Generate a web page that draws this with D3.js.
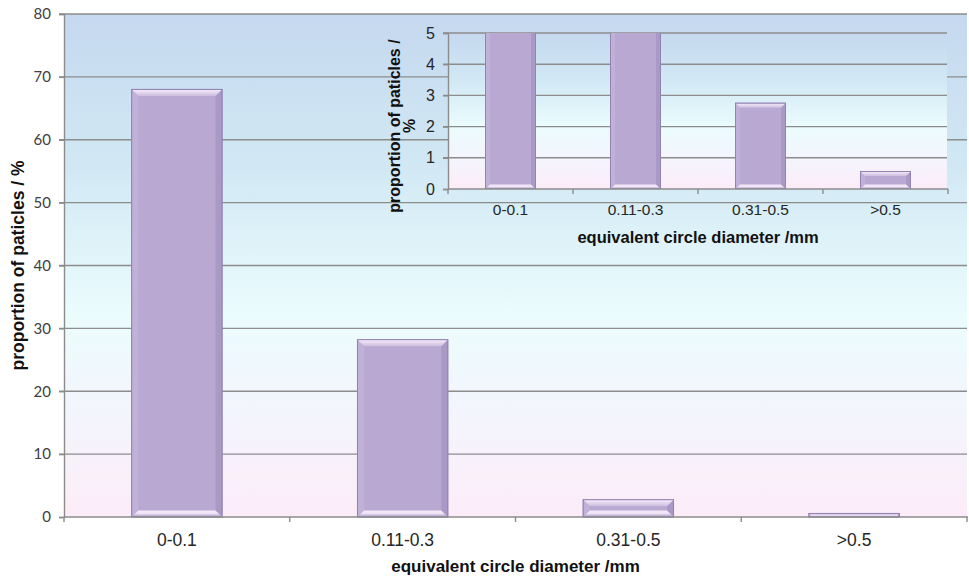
<!DOCTYPE html>
<html>
<head>
<meta charset="utf-8">
<script src="https://cdn.jsdelivr.net/npm/d3@7"></script>
<style>
  html, body { margin: 0; padding: 0; background: #ffffff; }
  svg { display: block; }
</style>
</head>
<body>
<svg id="chart" width="969" height="577"></svg>
<script>
// Particle size distribution (same values drawn in the full chart and the zoomed inset)
const categories = ["0-0.1", "0.11-0.3", "0.31-0.5", ">0.5"];
const proportions = [68.0, 28.2, 2.75, 0.56];
const mainTicks = [0, 10, 20, 30, 40, 50, 60, 70, 80];
const insetTicks = [0, 1, 2, 3, 4, 5];
const xTitle = "equivalent circle diameter /mm";
const yTitle = "proportion of paticles / %";
const insetYTitleLines = ["proportion of paticles /", "%"];

const svg = d3.select("#chart");
const defs = svg.append("defs");

// background gradient of the plot areas: blue at top, pale cyan mid, pink at bottom
const bg = defs.append("linearGradient").attr("id", "plotBg")
  .attr("x1", 0).attr("y1", 0).attr("x2", 0).attr("y2", 1);
[[0, "#c5d8ef"], [0.3, "#d1e8f4"], [0.6, "#ebfcfd"], [0.8, "#f4f5fc"], [1, "#fcecf8"]]
  .forEach(([o, c]) => bg.append("stop").attr("offset", o).attr("stop-color", c));

// bevel gradients
const topBev = defs.append("linearGradient").attr("id", "topBev")
  .attr("x1", 0).attr("y1", 0).attr("x2", 0).attr("y2", 1);
topBev.append("stop").attr("offset", 0).attr("stop-color", "#f6ecfa");
topBev.append("stop").attr("offset", 1).attr("stop-color", "#cdbde0");
const botBev = defs.append("linearGradient").attr("id", "botBev")
  .attr("x1", 0).attr("y1", 1).attr("x2", 0).attr("y2", 0);
botBev.append("stop").attr("offset", 0).attr("stop-color", "#a493c3");
botBev.append("stop").attr("offset", 0.55).attr("stop-color", "#efe4f6");
botBev.append("stop").attr("offset", 1).attr("stop-color", "#f4eafa");

const gridColor = "#8c8c8c";
const axisColor = "#8c8c8c";

// draws a bevelled bar
function bevelBar(g, x, y, w, h, b) {
  b = Math.min(b, h / 2);
  const grp = g.append("g");
  grp.append("rect").attr("x", x).attr("y", y).attr("width", w).attr("height", h)
    .attr("fill", "#b8a8d2").attr("stroke", "#9282b1").attr("stroke-width", 1);
  const poly = pts => pts.map(p => p.join(",")).join(" ");
  // left and right faces
  grp.append("polygon").attr("points", poly([[x, y], [x + b, y + b], [x + b, y + h - b], [x, y + h]]))
    .attr("fill", "#c0b1d9");
  grp.append("polygon").attr("points", poly([[x + w, y], [x + w - b, y + b], [x + w - b, y + h - b], [x + w, y + h]]))
    .attr("fill", "#a999c7");
  // top and bottom faces
  grp.append("polygon").attr("points", poly([[x, y], [x + w, y], [x + w - b, y + b], [x + b, y + b]]))
    .attr("fill", "url(#topBev)");
  grp.append("polygon").attr("points", poly([[x, y + h], [x + w, y + h], [x + w - b, y + h - b], [x + b, y + h - b]]))
    .attr("fill", "url(#botBev)");
  grp.append("rect").attr("x", x).attr("y", y).attr("width", w).attr("height", h)
    .attr("fill", "none").attr("stroke", "#9383b2").attr("stroke-width", 1);
  return grp;
}

// ---------- main chart ----------
const M = { left: 64, right: 967, top: 14, bottom: 517 };
const x = d3.scaleBand().domain(categories).range([M.left, M.right])
  .paddingInner(0.6).paddingOuter(0.3);
const y = d3.scaleLinear().domain([0, 80]).range([M.bottom, M.top]);

const main = svg.append("g");
main.append("rect").attr("x", M.left).attr("y", M.top)
  .attr("width", M.right - M.left).attr("height", M.bottom - M.top)
  .attr("fill", "url(#plotBg)");

// horizontal gridlines with short outside ticks
main.append("g").selectAll("line").data(mainTicks.filter(d => d > 0)).join("line")
  .attr("x1", M.left - 5).attr("x2", M.right)
  .attr("y1", d => y(d)).attr("y2", d => y(d))
  .attr("stroke", gridColor).attr("stroke-width", 1.4);

// y axis
const yAxis = main.append("g").attr("transform", `translate(${M.left},0)`)
  .call(d3.axisLeft(y).tickValues(mainTicks).tickFormat(d3.format("d")).tickSize(5).tickPadding(8));
yAxis.select(".domain").attr("stroke", axisColor).attr("stroke-width", 1.4);
yAxis.selectAll(".tick line").attr("stroke", axisColor).attr("stroke-width", 1.4);
yAxis.selectAll(".tick text").attr("font-family", "Lato, 'Open Sans', sans-serif")
  .attr("font-size", 15).attr("fill", "#404040");

// bars
const mainBars = main.append("g");
categories.forEach((c, i) => {
  bevelBar(mainBars, x(c), y(proportions[i]), x.bandwidth(), y(0) - y(proportions[i]), 6.5);
});

// x axis with boundary ticks
const step = x.step();
const boundaries = categories.map(c => x(c) - (step - x.bandwidth()) / 2)
  .concat([x(categories[categories.length - 1]) + x.bandwidth() + (step - x.bandwidth()) / 2]);
main.append("line").attr("x1", M.left).attr("x2", M.right + 1)
  .attr("y1", M.bottom).attr("y2", M.bottom)
  .attr("stroke", axisColor).attr("stroke-width", 1.4);
main.append("g").selectAll("line").data(boundaries).join("line")
  .attr("x1", d => d).attr("x2", d => d)
  .attr("y1", M.bottom).attr("y2", M.bottom + 5)
  .attr("stroke", axisColor).attr("stroke-width", 1.4);
main.append("g").selectAll("text").data(categories).join("text")
  .attr("x", d => x(d) + x.bandwidth() / 2).attr("y", M.bottom + 29)
  .attr("text-anchor", "middle")
  .attr("font-family", "'Liberation Sans', Arial, sans-serif").attr("font-size", 17.5)
  .attr("fill", "#262626").text(d => d);

main.append("text").attr("x", (M.left + M.right) / 2).attr("y", 572)
  .attr("text-anchor", "middle")
  .attr("font-family", "'Liberation Sans', Arial, sans-serif").attr("font-weight", "bold")
  .attr("font-size", 17).attr("fill", "#111").text(xTitle);
main.append("text").attr("transform", `translate(24,${(M.top + M.bottom) / 2}) rotate(-90)`)
  .attr("text-anchor", "middle")
  .attr("font-family", "'Liberation Sans', Arial, sans-serif").attr("font-weight", "bold")
  .attr("font-size", 17.5).attr("fill", "#111").text(yTitle);

// ---------- inset: zoom on 0-5 % ----------
const I = { left: 448, right: 948, top: 33, bottom: 189 };
const xi = d3.scaleBand().domain(categories).range([I.left, I.right])
  .paddingInner(0.6).paddingOuter(0.3);
const yi = d3.scaleLinear().domain([0, 5]).range([I.bottom, I.top]);

const inset = svg.append("g");
defs.append("clipPath").attr("id", "insetClip").append("rect")
  .attr("x", I.left).attr("y", I.top).attr("width", I.right - I.left).attr("height", I.bottom - I.top);

inset.append("rect").attr("x", I.left).attr("y", I.top)
  .attr("width", I.right - I.left - 1).attr("height", I.bottom - I.top)
  .attr("fill", "url(#plotBg)");

inset.append("g").selectAll("line").data(insetTicks.filter(d => d > 0)).join("line")
  .attr("x1", I.left - 5).attr("x2", I.right - 1)
  .attr("y1", d => yi(d)).attr("y2", d => yi(d))
  .attr("stroke", gridColor).attr("stroke-width", 1.4);

const yiAxis = inset.append("g").attr("transform", `translate(${I.left},0)`)
  .call(d3.axisLeft(yi).tickValues(insetTicks).tickFormat(d3.format("d")).tickSize(5).tickPadding(8));
yiAxis.select(".domain").attr("stroke", axisColor).attr("stroke-width", 1.4);
yiAxis.selectAll(".tick line").attr("stroke", axisColor).attr("stroke-width", 1.4);
yiAxis.selectAll(".tick text").attr("font-family", "'Liberation Sans', Arial, sans-serif")
  .attr("font-size", 16).attr("fill", "#262626");

const insetBars = inset.append("g").attr("clip-path", "url(#insetClip)");
categories.forEach((c, i) => {
  bevelBar(insetBars, xi(c), yi(proportions[i]), xi.bandwidth(), yi(0) - yi(proportions[i]), 4.5);
});

const stepI = xi.step();
const boundariesI = categories.map(c => xi(c) - (stepI - xi.bandwidth()) / 2)
  .concat([xi(categories[categories.length - 1]) + xi.bandwidth() + (stepI - xi.bandwidth()) / 2]);
inset.append("line").attr("x1", I.left).attr("x2", I.right)
  .attr("y1", I.bottom).attr("y2", I.bottom)
  .attr("stroke", axisColor).attr("stroke-width", 1.4);
inset.append("g").selectAll("line").data(boundariesI).join("line")
  .attr("x1", d => d).attr("x2", d => d)
  .attr("y1", I.bottom).attr("y2", I.bottom + 5)
  .attr("stroke", axisColor).attr("stroke-width", 1.4);
inset.append("g").selectAll("text").data(categories).join("text")
  .attr("x", d => xi(d) + xi.bandwidth() / 2).attr("y", I.bottom + 26)
  .attr("text-anchor", "middle")
  .attr("font-family", "'Liberation Sans', Arial, sans-serif").attr("font-size", 15.5)
  .attr("fill", "#262626").text(d => d);

inset.append("text").attr("x", (I.left + I.right) / 2).attr("y", 243)
  .attr("text-anchor", "middle")
  .attr("font-family", "'Liberation Sans', Arial, sans-serif").attr("font-weight", "bold")
  .attr("font-size", 16.5).attr("fill", "#111").text(xTitle);
const iyt = inset.append("text").attr("transform", `translate(400,126) rotate(-90)`)
  .attr("text-anchor", "middle")
  .attr("font-family", "'Liberation Sans', Arial, sans-serif").attr("font-weight", "bold")
  .attr("font-size", 16).attr("fill", "#111");
insetYTitleLines.forEach((t, k) => {
  iyt.append("tspan").attr("x", 0).attr("dy", k === 0 ? 0 : 15).text(t);
});
</script>
</body>
</html>
